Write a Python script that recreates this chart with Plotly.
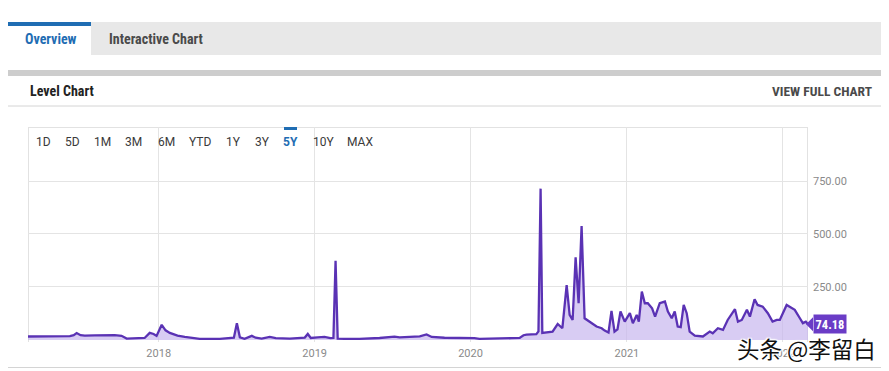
import plotly.graph_objects as go

# ---------------- data ----------------
dates = [
    "2017-03-01", "2017-04-21", "2017-06-07", "2017-06-16", "2017-06-23", "2017-07-02",
    "2017-07-12", "2017-08-04", "2017-09-04", "2017-09-20", "2017-10-06", "2017-10-18",
    "2017-11-29", "2017-12-11", "2017-12-20", "2017-12-27", "2018-01-08", "2018-01-17",
    "2018-01-27", "2018-02-14", "2018-03-03", "2018-04-07", "2018-05-24", "2018-06-16",
    "2018-06-26", "2018-07-03", "2018-07-10", "2018-07-21", "2018-08-07", "2018-08-16",
    "2018-08-30", "2018-09-18", "2018-10-02", "2018-11-04", "2018-11-27", "2018-12-09",
    "2018-12-16", "2018-12-23", "2019-01-08", "2019-01-24", "2019-02-07", "2019-02-14",
    "2019-02-19", "2019-02-24", "2019-03-12", "2019-04-16", "2019-06-02", "2019-06-25",
    "2019-07-07", "2019-07-19", "2019-08-11", "2019-09-04", "2019-09-20", "2019-10-02",
    "2019-11-01", "2019-11-25", "2019-12-18", "2020-01-10", "2020-01-22", "2020-02-14",
    "2020-03-09", "2020-04-06", "2020-04-25", "2020-05-04", "2020-05-11", "2020-05-25",
    "2020-06-03", "2020-06-08", "2020-06-13", "2020-06-17", "2020-06-29", "2020-07-11",
    "2020-07-23", "2020-08-03", "2020-08-13", "2020-08-20", "2020-08-27", "2020-09-03",
    "2020-09-10", "2020-09-17", "2020-09-24", "2020-10-05", "2020-10-22", "2020-11-03",
    "2020-11-10", "2020-11-19", "2020-11-26", "2020-12-03", "2020-12-10", "2020-12-17",
    "2020-12-27", "2021-01-08", "2021-01-15", "2021-01-24", "2021-01-29", "2021-02-05",
    "2021-02-12", "2021-02-19", "2021-03-01", "2021-03-08", "2021-03-19", "2021-03-31",
    "2021-04-07", "2021-04-16", "2021-04-23", "2021-04-30", "2021-05-07", "2021-05-14",
    "2021-05-21", "2021-05-28", "2021-06-09", "2021-06-28", "2021-07-14", "2021-07-21",
    "2021-08-02", "2021-08-14", "2021-08-25", "2021-09-11", "2021-09-18", "2021-09-27",
    "2021-10-09", "2021-10-16", "2021-10-27", "2021-11-03", "2021-11-15", "2021-11-27",
    "2021-12-08", "2021-12-18", "2021-12-25", "2022-01-10", "2022-01-22", "2022-01-29",
    "2022-02-10", "2022-02-17", "2022-02-24", "2022-03-01",
]
levels = [
    16, 16, 18, 22, 32, 22,
    20, 21, 24, 22, 19, 6,
    9, 33, 28, 19, 71, 45,
    33, 20, 14, 5, 5, 9,
    10, 79, 12, 5, 19, 10,
    6, 14, 8, 6, 9, 11,
    28, 9, 12, 14, 8, 9,
    373, 6, 5, 5, 9, 11,
    15, 12, 14, 17, 26, 14,
    10, 10, 9, 8, 5, 7,
    7, 8, 9, 22, 25, 25,
    27, 40, 714, 33, 36, 39,
    75, 55, 259, 118, 94, 390,
    173, 538, 102, 88, 63, 55,
    44, 35, 137, 39, 50, 134,
    86, 126, 79, 118, 86, 228,
    173, 173, 149, 110, 173, 181,
    134, 102, 134, 63, 60, 165,
    126, 39, 20, 16, 39, 31,
    55, 47, 94, 145, 86, 94,
    142, 110, 192, 165, 157, 126,
    86, 94, 94, 165, 149, 142,
    102, 79, 86, 74.18,
]
y_ticks = [250, 500, 750]
y_tick_labels = ["250.00", "500.00", "750.00"]
x_ticks = ["2018-01-01", "2019-01-01", "2020-01-01", "2021-01-01", "2022-01-01"]
x_tick_labels = ["2018", "2019", "2020", "2021", "2022"]
range_buttons = ["1D", "5D", "1M", "3M", "6M", "YTD", "1Y", "3Y", "5Y", "10Y", "MAX"]
last_value = levels[-1]

# ---------------- layout helpers ----------------
# The page body has an 8px margin, so the figure is drawn 8px smaller and
# all screen positions below are given in window pixels minus that offset.
OFF = 8
W, H = 889 - OFF, 371 - OFF
L, R, T, B = 28 - OFF, 808 - OFF, 127 - OFF, 342 - OFF
def X(px):
    return (px - OFF - L) / (R - L)
def Y(py):
    return (B - (py - OFF)) / (B - T)

COND = "Liberation Sans Narrow, Roboto Condensed, Arial Narrow, Roboto, sans-serif"
ROB = "Roboto, Liberation Sans, sans-serif"
PURPLE = "#5a32b4"
BLUE = "#1f6db3"

fig = go.Figure()
fig.add_trace(go.Scatter(
    x=dates, y=levels, mode="lines",
    line=dict(color=PURPLE, width=2.3),
    fill="tozeroy", fillcolor="rgba(200,182,238,0.7)",
    hoverinfo="x+y", showlegend=False,
))

shapes = []
def rect(x0, y0, x1, y1, fill):
    shapes.append(dict(type="rect", xref="paper", yref="paper",
                       x0=X(x0), x1=X(x1), y0=Y(y1), y1=Y(y0),
                       fillcolor=fill, line=dict(width=0), layer="below"))
def hline(x0, x1, y, color, width=1):
    shapes.append(dict(type="line", xref="paper", yref="paper",
                       x0=X(x0), x1=X(x1), y0=Y(y), y1=Y(y),
                       line=dict(color=color, width=width), layer="below"))
def vline(x, y0, y1, color, width=1):
    shapes.append(dict(type="line", xref="paper", yref="paper",
                       x0=X(x), x1=X(x), y0=Y(y0), y1=Y(y1),
                       line=dict(color=color, width=width), layer="below"))

# tab bar
rect(0, 22, 889, 55, "#e8e8e8")
rect(7, 22, 91, 56, "#ffffff")
rect(7, 22, 91, 26, BLUE)
# panel
rect(7, 70, 884, 76, "#cdcdcd")
vline(7.5, 76, 368, "#d4d4d4")
vline(883.5, 76, 368, "#d4d4d4")
hline(7, 884, 367.5, "#d4d4d4")
hline(7, 884, 106, "#d4d4d4")
# chart box
hline(28, 808, 127.5, "#e2e2e2")
vline(28.5, 127, 342, "#e2e2e2")
vline(807.5, 127, 342, "#e2e2e2")
# selected button marker
rect(284, 127, 297, 130, BLUE)
# value tag arrow
shapes.append(dict(type="path", xref="paper", yref="y",
                   xsizemode="pixel", ysizemode="pixel",
                   xanchor=X(806), yanchor=last_value,
                   path="M 0 0 L 7 7 L 7 -7 Z",
                   fillcolor="#6a3cc6", line=dict(width=0), layer="above"))

ann = []
def text(px, py, s, size, color, family=ROB, xanchor="center", bold=False, **kw):
    ann.append(dict(xref="paper", yref="paper", x=X(px), y=Y(py),
                    text=f"<b>{s}</b>" if bold else s, showarrow=False,
                    xanchor=xanchor, yanchor="middle",
                    font=dict(size=size, color=color, family=family), **kw))

text(23, 39, "Overview", 14, BLUE, COND, "left", True)
text(107, 39, "Interactive Chart", 14, "#4a4a4a", COND, "left", True)
text(28, 91, "Level Chart", 14, "#222222", COND, "left", True)
text(874, 91, "VIEW FULL CHART", 13.5, "#4a4a4a", COND, "right", True)

btn_x = [43, 72, 102, 134, 166, 200, 233, 262, 290, 323, 360]
for bx, lab in zip(btn_x, range_buttons):
    sel = lab == "5Y"
    text(bx, 142, lab, 12, BLUE if sel else "#3a3a3a", ROB, "center", sel)

# value tag
ann.append(dict(xref="paper", yref="y", x=X(813), y=last_value,
                text=f"<b>{last_value:.2f}</b>", showarrow=False,
                xanchor="left", yanchor="middle",
                font=dict(size=12.5, color="#ffffff", family=COND),
                bgcolor="#6a3cc6", borderpad=1.5))

# watermark
ann.append(dict(xref="paper", yref="paper", x=X(806), y=Y(348),
                text="头条 @李留白", showarrow=False, xanchor="center", yanchor="middle",
                font=dict(size=22.5, color="#111111", family="Noto Sans CJK SC",
                          shadow="1px 1px 1px #fff, -1px -1px 1px #fff, 1px -1px 1px #fff, -1px 1px 1px #fff, 0 0 3px #fff")))

fig.update_layout(
    width=W, height=H,
    margin=dict(l=L, r=W - R, t=T, b=H - B, pad=0),
    paper_bgcolor="#ffffff", plot_bgcolor="rgba(0,0,0,0)",
    shapes=shapes, annotations=ann,
    showlegend=False,
    xaxis=dict(type="date", range=["2017-03-01", "2022-03-01"],
               tickvals=x_ticks, ticktext=x_tick_labels,
               showgrid=True, gridcolor="#e4e4e4", gridwidth=1,
               zeroline=False, showline=False, ticks="",
               ticklabelstandoff=3,
               tickfont=dict(size=11, color="#8a8a8a", family=ROB),
               fixedrange=True),
    yaxis=dict(range=[-10, 1005], side="right",
               tickvals=y_ticks, ticktext=y_tick_labels,
               showgrid=True, gridcolor="#e4e4e4", gridwidth=1,
               zeroline=False, showline=False, ticks="",
               ticklabelstandoff=4,
               tickfont=dict(size=11, color="#8a8a8a", family=ROB),
               fixedrange=True),
)

fig.write_html("out.html")
